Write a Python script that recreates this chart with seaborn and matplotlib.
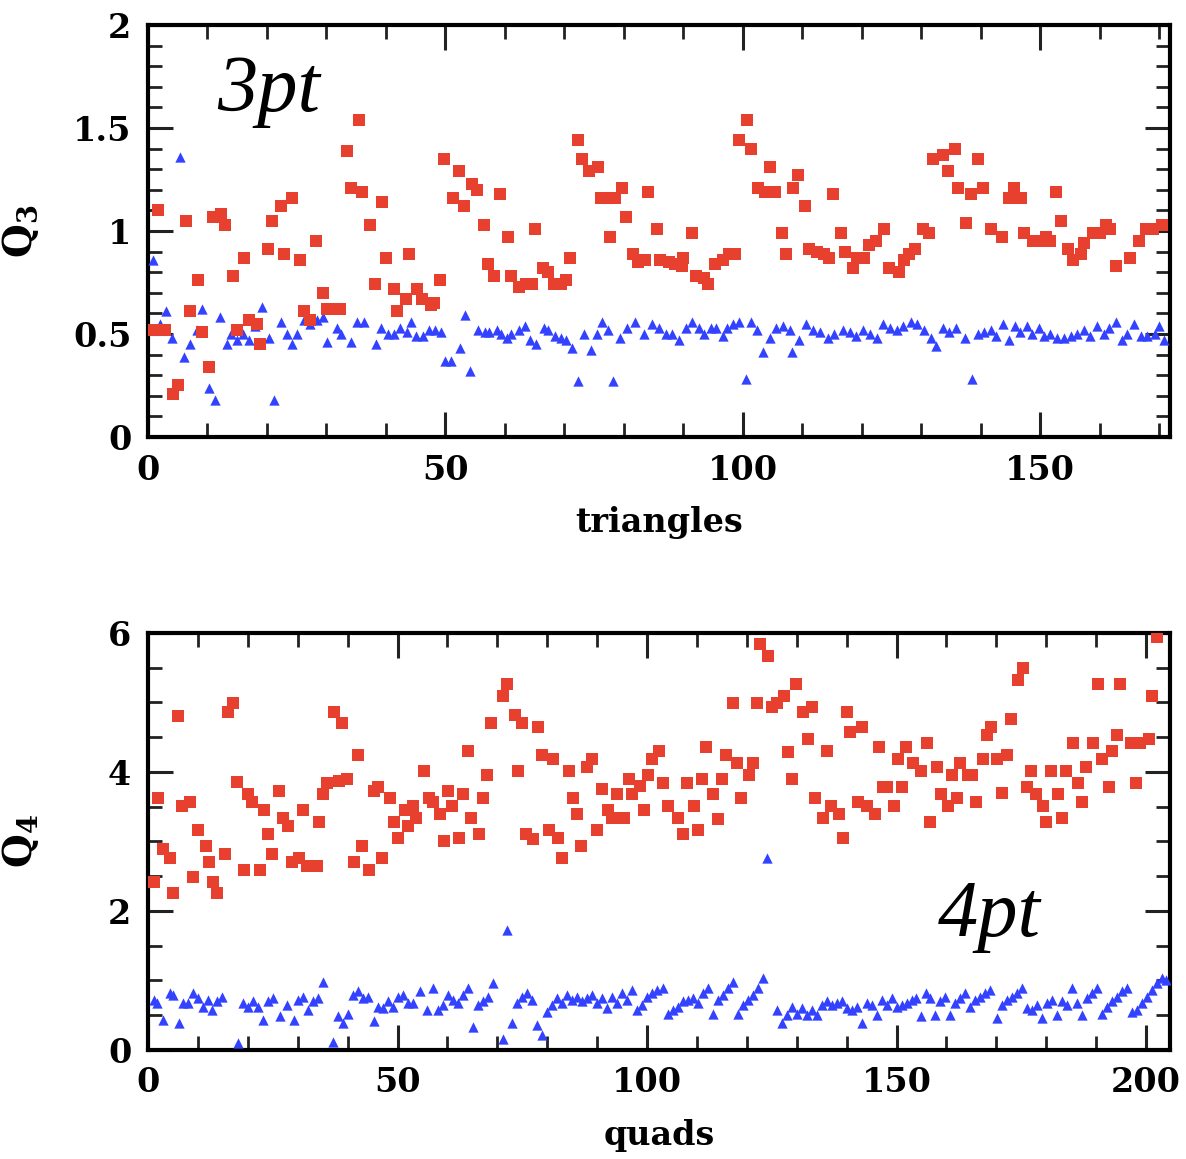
import numpy as np
import pandas as pd
import matplotlib
matplotlib.use("Agg")
import matplotlib.pyplot as plt
import seaborn as sns
from matplotlib.ticker import MultipleLocator, FuncFormatter

# ---------------- data: top panel (3pt, triangles) ----------------
tri_red_x = [1.0, 1.7, 2.9, 4.2, 5.1, 6.4, 7.1, 8.4, 9.0, 10.3, 11.0, 12.3, 13.0, 14.3, 15.0,
             16.2, 16.9, 18.3, 18.9, 20.2, 20.9, 22.3, 22.8, 24.2, 25.5, 26.2, 27.3, 28.2, 29.5,
             30.1, 31.2, 32.2, 33.5, 34.1, 35.4, 36.0, 37.3, 38.1, 39.4, 40.0, 41.3, 41.9, 43.3,
             43.8, 45.3, 46.1, 47.5, 48.0, 49.1, 49.8, 51.2, 52.3, 53.2, 54.5, 55.3, 56.4, 57.1,
             58.2, 59.2, 60.5, 61.0, 62.4, 63.6, 64.6, 65.0, 66.4, 67.2, 68.3, 69.4, 70.3, 71.0,
             72.3, 73.0, 74.2, 75.6, 76.2, 77.3, 77.6, 78.5, 79.6, 80.3, 81.6, 82.4, 83.5, 84.1,
             85.5, 86.1, 87.5, 88.6, 89.7, 90.0, 91.4, 92.2, 93.4, 94.1, 95.3, 96.7, 97.6, 98.7,
             99.3, 100.7, 101.4, 102.6, 103.7, 104.6, 105.4, 106.6, 107.3, 108.5, 109.3, 110.5,
             111.1, 112.5, 113.6, 114.4, 115.2, 116.5, 117.2, 118.5, 119.2, 120.3, 121.2, 122.3,
             123.7, 124.5, 126.2, 127.1, 127.9, 129.0, 130.2, 131.3, 132.0, 133.6, 134.4, 135.7,
             136.2, 137.5, 138.3, 139.6, 140.3, 141.7, 143.6, 144.8, 145.5, 146.8, 147.3, 148.7,
             149.9, 151.0, 151.6, 152.7, 153.5, 154.6, 155.5, 156.9, 157.4, 158.8, 160.0, 161.0,
             161.7, 162.7, 165.0, 166.6, 167.8, 169.0, 170.4]
tri_red_y = [0.52, 1.10, 0.52, 0.21, 0.25, 1.05, 0.61, 0.76, 0.51, 0.34, 1.07, 1.08, 1.03, 0.78, 0.52,
             0.87, 0.57, 0.55, 0.45, 0.91, 1.05, 1.12, 0.89, 1.16, 0.86, 0.61, 0.57, 0.95, 0.70,
             0.62, 0.62, 0.62, 1.39, 1.21, 1.54, 1.19, 1.03, 0.74, 1.14, 0.87, 0.72, 0.61, 0.67,
             0.89, 0.72, 0.67, 0.64, 0.65, 0.76, 1.35, 1.16, 1.29, 1.12, 1.23, 1.20, 1.03, 0.84,
             0.78, 1.18, 0.97, 0.78, 0.73, 0.74, 0.74, 1.01, 0.82, 0.80, 0.74, 0.74, 0.76, 0.87,
             1.44, 1.35, 1.29, 1.31, 1.16, 1.16, 0.97, 1.16, 1.21, 1.07, 0.89, 0.85, 0.86, 1.19,
             1.01, 0.86, 0.85, 0.84, 0.83, 0.87, 0.99, 0.78, 0.77, 0.74, 0.84, 0.86, 0.89, 0.89,
             1.44, 1.54, 1.40, 1.21, 1.19, 1.31, 1.19, 0.99, 0.89, 1.21, 1.27, 1.12,
             0.91, 0.90, 0.89, 0.87, 1.18, 0.99, 0.90, 0.82, 0.87, 0.87, 0.93, 0.95,
             1.01, 0.82, 0.80, 0.86, 0.89, 0.91, 1.01, 0.99, 1.35, 1.37, 1.29, 1.40,
             1.21, 1.04, 1.18, 1.35, 1.21, 1.01, 0.97, 1.16, 1.21, 1.16, 0.99, 0.95,
             0.95, 0.97, 0.95, 1.19, 1.05, 0.91, 0.86, 0.89, 0.94, 0.99, 0.99, 1.03,
             1.01, 0.83, 0.87, 0.95, 1.01, 1.01, 1.03]

tri_blue_x = [0.9, 2.0, 3.1, 4.0, 5.3, 6.0, 7.1, 8.2, 9.0, 10.2, 11.3, 12.1, 13.3, 14.0, 15.0, 16.0,
              17.0, 18.0, 19.2, 20.3, 21.1, 22.3, 23.4, 24.2, 25.1, 26.2, 27.3, 28.4, 29.5, 30.1,
              31.8, 32.4, 34.1, 35.2, 36.3, 38.3, 39.2, 40.3, 41.4, 42.3, 43.6, 44.2, 45.1, 46.2,
              47.3, 48.2, 49.3, 50.0, 51.0, 52.4, 53.3, 54.2, 55.5, 56.6, 57.4, 58.6, 59.4, 60.3,
              61.1, 62.3, 63.4, 64.2, 65.3, 66.5, 67.3, 68.4, 69.5, 70.3, 71.2, 72.3, 73.3, 74.4,
              75.4, 76.3, 77.4, 78.2, 79.3, 80.5, 81.9, 83.3, 84.7, 85.9, 87.0, 88.1, 89.2, 90.4,
              91.5, 92.6, 93.4, 94.6, 95.4, 96.6, 97.4, 98.3, 99.4, 100.5, 101.3, 102.4, 103.3,
              104.5, 105.6, 106.8, 107.9, 108.3, 109.5, 110.6, 111.8, 112.9, 114.3, 115.4, 116.8,
              118.0, 119.1, 120.2, 121.4, 122.5, 123.6, 124.8, 125.9, 127.0, 128.2, 129.3, 130.4,
              131.6, 132.5, 133.6, 134.7, 135.9, 137.3, 138.6, 139.5, 140.6, 141.7, 142.6, 143.7,
              144.8, 145.7, 146.6, 147.7, 148.6, 149.7, 150.6, 151.7, 152.8, 153.9, 155.1, 156.2,
              157.3, 158.4, 159.6, 160.7, 161.5, 162.7, 163.8, 164.6, 165.8, 166.9, 168.0, 169.2,
              170.0, 170.8]
tri_blue_y = [0.86, 0.55, 0.61, 0.48, 1.36, 0.39, 0.45, 0.52, 0.62, 0.24, 0.18, 0.58, 0.45, 0.50,
              0.47, 0.50, 0.47, 0.54, 0.63, 0.48, 0.18, 0.56, 0.50, 0.45, 0.50, 0.57, 0.55, 0.57,
              0.58, 0.46, 0.53, 0.50, 0.46, 0.56, 0.56, 0.45, 0.53, 0.50, 0.50, 0.53, 0.51, 0.56,
              0.49, 0.49, 0.52, 0.52, 0.51, 0.37, 0.37, 0.43, 0.59, 0.32, 0.52, 0.51, 0.51, 0.52,
              0.50, 0.48, 0.50, 0.52, 0.54, 0.47, 0.45, 0.53, 0.52, 0.49, 0.48, 0.47, 0.43, 0.27,
              0.50, 0.42, 0.50, 0.56, 0.52, 0.27, 0.48, 0.53, 0.56, 0.50, 0.55, 0.53, 0.50, 0.50,
              0.47, 0.53, 0.56, 0.53, 0.50, 0.53, 0.53, 0.49, 0.53, 0.55, 0.56, 0.28, 0.56, 0.52,
              0.41, 0.48, 0.53, 0.54, 0.52, 0.41, 0.47, 0.55, 0.52, 0.51, 0.48, 0.50, 0.52, 0.51,
              0.49, 0.52, 0.50, 0.48, 0.55, 0.53, 0.52, 0.54, 0.56, 0.55, 0.52, 0.48, 0.44, 0.53,
              0.51, 0.53, 0.48, 0.28, 0.50, 0.51, 0.52, 0.49, 0.55, 0.47, 0.54, 0.51, 0.54, 0.50,
              0.53, 0.49, 0.50, 0.48, 0.48, 0.49, 0.50, 0.52, 0.49, 0.54, 0.50, 0.53, 0.56, 0.47,
              0.50, 0.55, 0.49, 0.49, 0.50, 0.54, 0.47]

# ---------------- data: bottom panel (4pt, quads) ----------------
quad_red_x = [1.2, 2.1, 3.1, 4.4, 5.1, 6.1, 6.8, 8.4, 9.1, 10.0, 11.6, 12.3, 13.1, 13.9, 15.4, 16.1,
              17.1, 17.9, 19.3, 20.0, 20.9, 22.4, 23.2, 24.0, 24.9, 26.3, 27.1, 28.0, 28.8, 30.3,
              31.1, 31.9, 33.8, 34.3, 35.0, 35.8, 37.3, 38.3, 38.9, 39.8, 41.3, 42.1, 42.8, 44.3,
              45.2, 46.0, 46.8, 48.4, 49.2, 50.0, 51.5, 52.2, 53.2, 53.8, 55.3, 56.4, 57.2, 58.5,
              59.3, 60.2, 60.9, 62.4, 63.2, 64.1, 64.7, 66.4, 67.2, 67.9, 68.7, 71.1, 71.9, 73.5,
              74.2, 75.0, 75.8, 77.2, 78.1, 78.9, 80.4, 81.2, 82.1, 82.9, 84.4, 85.1, 86.0, 86.7,
              87.9, 89.0, 89.9, 90.9, 92.2, 92.9, 93.9, 95.3, 96.3, 96.9, 98.5, 99.3, 100.1, 100.9,
              102.5, 103.3, 104.3, 106.3, 107.2, 108.0, 109.5, 110.3, 111.1, 111.8, 113.3, 114.2,
              115.0, 115.8, 117.3, 118.1, 118.8, 120.5, 121.3, 122.0, 122.6, 124.3, 125.0, 126.0,
              127.5, 128.2, 129.1, 129.9, 131.3, 132.2, 133.0, 133.7, 135.3, 136.1, 136.9, 138.5,
              139.2, 140.0, 140.7, 142.3, 143.0, 144.0, 145.6, 146.4, 147.2, 148.0, 149.4, 150.2,
              151.0, 151.8, 153.4, 154.9, 156.1, 156.7, 158.1, 158.9, 160.4, 161.2, 162.1, 162.7,
              164.4, 165.1, 165.9, 167.4, 168.1, 168.9, 170.1, 171.1, 172.2, 172.9, 174.4, 175.4,
              176.1, 177.0, 177.9, 179.3, 180.0, 181.0, 182.3, 183.1, 183.9, 185.4, 186.3, 187.1,
              187.9, 189.4, 190.3, 191.1, 192.6, 193.2, 194.1, 194.8, 196.9, 198.0, 198.8, 200.5,
              201.1, 202.1]
quad_red_y = [2.42, 3.62, 2.89, 2.76, 2.25, 4.81, 3.51, 3.56, 2.48, 3.16, 2.93, 2.71, 2.42, 2.25, 2.82,
              4.87, 4.99, 3.85, 2.59, 3.68, 3.56, 2.59, 3.45, 3.11, 2.82, 3.73, 3.34, 3.22, 2.71,
              2.76, 3.45, 2.65, 2.65, 3.28, 3.68, 3.84, 4.87, 3.87, 4.70, 3.90, 2.71, 4.25, 2.93,
              2.59, 3.73, 3.79, 2.76, 3.62, 3.28, 3.05, 3.45, 3.22, 3.51, 3.34, 4.02, 3.62, 3.56,
              3.39, 3.00, 3.73, 3.51, 3.05, 3.68, 4.30, 3.33, 3.11, 3.62, 3.96, 4.70, 5.10, 5.27,
              4.82, 4.01, 4.70, 3.11, 3.03, 4.64, 4.25, 3.17, 4.19, 3.05, 2.76, 4.01, 3.62, 3.39,
              2.93, 4.07, 4.19, 3.16, 3.75, 3.45, 3.33, 3.68, 3.33, 3.90, 3.68, 3.80, 3.45, 3.96,
              4.19, 4.30, 3.84, 3.51, 3.33, 3.11, 3.84, 3.51, 3.16, 3.90, 4.36, 3.68, 3.32, 3.90,
              4.25, 4.99, 4.13, 3.62, 3.96, 4.13, 4.99, 5.84, 5.67, 4.93, 4.99, 5.10, 4.28, 3.90,
              5.27, 4.87, 4.47, 4.93, 3.62, 3.33, 4.30, 3.51, 3.39, 3.05, 4.87, 4.58, 3.56, 4.64,
              3.51, 3.39, 4.36, 3.79, 3.79, 3.51, 4.19, 3.79, 4.36, 4.13, 4.01, 4.42, 3.28, 4.07,
              3.68, 3.51, 3.96, 3.62, 4.13, 3.96, 3.96, 3.56, 4.19, 4.53, 4.65, 4.19, 3.70, 4.24,
              4.76, 5.33, 5.50, 3.79, 4.01, 3.68, 3.51, 3.28, 4.01, 3.68, 3.33, 4.01, 4.41, 3.84,
              3.56, 4.07, 4.41, 5.27, 4.19, 3.79, 4.30, 4.53, 5.27, 4.41, 3.84, 4.41, 4.47, 5.10,
              5.94]

quad_blue_x = [1.1, 1.9, 3.1, 4.4, 5.0, 6.3, 7.1, 8.1, 9.1, 10.1, 11.1, 12.1, 12.8, 13.8, 14.8, 18.1,
               19.1, 20.1, 21.1, 22.1, 23.1, 24.1, 25.1, 26.5, 27.8, 29.2, 30.1, 31.1, 32.1, 33.1,
               34.1, 35.1, 37.1, 38.1, 39.1, 40.1, 41.1, 42.1, 43.1, 44.1, 45.2, 46.1, 47.1, 48.1,
               49.1, 50.1, 51.1, 52.1, 53.2, 54.5, 55.9, 57.2, 58.2, 59.2, 60.2, 61.2, 62.2, 63.2,
               64.2, 65.1, 66.2, 67.2, 68.2, 69.2, 71.2, 72.0, 73.0, 73.9, 74.9, 75.9, 76.9, 77.9,
               78.9, 79.9, 80.9, 81.9, 82.9, 83.9, 84.9, 85.9, 86.9, 87.9, 88.9, 89.9, 90.9, 91.9,
               92.9, 93.9, 94.9, 95.9, 96.9, 97.9, 98.9, 99.9, 100.9, 101.9, 103.3, 104.3, 105.3,
               106.3, 107.3, 108.3, 109.3, 110.3, 111.3, 112.3, 113.3, 114.3, 115.3, 116.3, 117.3,
               118.3, 119.3, 120.3, 121.3, 122.3, 123.3, 124.1, 126.0, 127.0, 128.0, 129.0, 130.0,
               131.0, 132.0, 133.0, 134.0, 135.0, 136.0, 137.0, 138.0, 139.0, 140.0, 141.0, 142.0,
               143.0, 144.0, 145.0, 146.0, 147.0, 148.0, 149.0, 150.0, 151.0, 152.0, 153.0, 154.0,
               155.0, 156.0, 156.7, 157.7, 158.7, 159.7, 160.7, 161.7, 162.7, 163.7, 164.7, 165.7,
               166.7, 167.7, 168.7, 170.1, 171.1, 172.1, 173.1, 174.1, 175.1, 176.1, 177.1, 178.1,
               179.1, 180.1, 181.1, 182.1, 183.1, 184.1, 185.1, 186.1, 187.1, 188.1, 189.1, 190.1,
               191.1, 192.1, 193.1, 194.1, 195.1, 196.1, 197.1, 198.1, 199.1, 200.1, 201.1, 202.1,
               203.1, 204.1]
quad_blue_y = [0.72, 0.67, 0.43, 0.81, 0.79, 0.38, 0.67, 0.67, 0.81, 0.74, 0.62, 0.72, 0.57, 0.70,
               0.76, 0.09, 0.67, 0.62, 0.70, 0.62, 0.43, 0.70, 0.74, 0.48, 0.65, 0.43, 0.72, 0.76,
               0.57, 0.70, 0.74, 0.98, 0.11, 0.48, 0.38, 0.52, 0.79, 0.84, 0.74, 0.76, 0.41, 0.62,
               0.60, 0.70, 0.62, 0.76, 0.79, 0.67, 0.67, 0.84, 0.57, 0.89, 0.57, 0.65, 0.79, 0.72,
               0.67, 0.79, 0.89, 0.33, 0.65, 0.70, 0.76, 0.96, 0.16, 1.73, 0.38, 0.67, 0.76, 0.81,
               0.72, 0.36, 0.21, 0.55, 0.65, 0.74, 0.67, 0.79, 0.72, 0.76, 0.70, 0.74, 0.79, 0.67,
               0.74, 0.60, 0.76, 0.67, 0.81, 0.72, 0.86, 0.57, 0.65, 0.76, 0.81, 0.86, 0.89, 0.52,
               0.57, 0.62, 0.70, 0.72, 0.74, 0.67, 0.81, 0.89, 0.52, 0.72, 0.79, 0.89, 0.98, 0.52,
               0.65, 0.72, 0.79, 0.89, 1.03, 2.76, 0.57, 0.38, 0.50, 0.62, 0.52, 0.60, 0.50, 0.57,
               0.50, 0.65, 0.70, 0.65, 0.67, 0.70, 0.60, 0.57, 0.62, 0.38, 0.67, 0.65, 0.50, 0.72,
               0.65, 0.74, 0.62, 0.65, 0.67, 0.72, 0.74, 0.48, 0.81, 0.74, 0.50, 0.70, 0.76, 0.50,
               0.67, 0.74, 0.81, 0.62, 0.72, 0.76, 0.81, 0.86, 0.45, 0.65, 0.72, 0.76, 0.81, 0.89,
               0.60, 0.57, 0.65, 0.45, 0.67, 0.72, 0.50, 0.70, 0.65, 0.89, 0.67, 0.50, 0.74, 0.81,
               0.89, 0.52, 0.62, 0.70, 0.76, 0.84, 0.89, 0.55, 0.57, 0.67, 0.76, 0.86, 0.96, 1.03,
               1.01]

RED = "#E8402E"
BLUE = "#3242FF"

sns.set_theme(style="ticks")
plt.rcParams["font.family"] = ["DejaVu Serif", "DejaVu Sans"]
plt.rcParams["font.weight"] = "bold"
plt.rcParams["mathtext.default"] = "regular"
plt.rcParams["text.color"] = "black"
plt.rcParams["xtick.color"] = "black"
plt.rcParams["ytick.color"] = "black"
plt.rcParams["axes.labelcolor"] = "black"

fig = plt.figure(figsize=(11.86, 11.59), dpi=100)
ax1 = fig.add_axes([0.1248, 0.6230, 0.8617, 0.3555])
ax2 = fig.add_axes([0.1248, 0.0943, 0.8617, 0.3595])

def scat(ax, x, y, color, marker, size):
    df = pd.DataFrame({"x": x, "y": y})
    sns.scatterplot(data=df, x="x", y="y", ax=ax, color=color, marker=marker,
                    s=size, linewidth=0, legend=False, zorder=3)

scat(ax1, tri_blue_x, tri_blue_y, BLUE, "^", 55)
scat(ax1, tri_red_x, tri_red_y, RED, "s", 75)
scat(ax2, quad_blue_x, quad_blue_y, BLUE, "^", 55)
scat(ax2, quad_red_x, quad_red_y, RED, "s", 75)

fmt = FuncFormatter(lambda v, p: f"{v:g}")

def style(ax, xmax, ymax, xmaj, ymaj, ymin_step, xlabel, ylabel):
    ax.set_xlim(0, xmax)
    ax.set_ylim(0, ymax)
    ax.xaxis.set_major_locator(MultipleLocator(xmaj))
    ax.xaxis.set_minor_locator(MultipleLocator(10))
    ax.yaxis.set_major_locator(MultipleLocator(ymaj))
    ax.yaxis.set_minor_locator(MultipleLocator(ymin_step))
    ax.yaxis.set_major_formatter(fmt)
    ax.xaxis.set_major_formatter(fmt)
    ax.tick_params(which="both", direction="in", top=True, right=True,
                   color="#222222", labelcolor="black")
    ax.tick_params(which="major", length=18, width=2.2, labelsize=24, pad=12)
    ax.tick_params(which="minor", length=10, width=2.0)
    for s in ax.spines.values():
        s.set_linewidth(3)
        s.set_color("black")
    ax.set_xlabel(xlabel, fontsize=24, fontweight="bold", labelpad=14, color="black")
    ax.set_ylabel(ylabel, fontsize=28, fontweight="bold", color="black")
    ax.yaxis.set_label_coords(-0.105, 0.5)
    for lab in ax.get_xticklabels() + ax.get_yticklabels():
        lab.set_fontweight("bold")

style(ax1, 171.8, 2, 50, 0.5, 0.1, "triangles", r"Q$_3$")
style(ax2, 204.8, 6, 50, 2, 0.5, "quads", r"Q$_4$")

ax1.text(0.068, 0.79, "3pt", transform=ax1.transAxes, fontsize=58, color="black",
         family="Liberation Serif", style="italic", fontweight="normal", va="baseline")
ax2.text(0.773, 0.274, "4pt", transform=ax2.transAxes, fontsize=58, color="black",
         family="Liberation Serif", style="italic", fontweight="normal", va="baseline")

fig.savefig("out.png", dpi=100)
